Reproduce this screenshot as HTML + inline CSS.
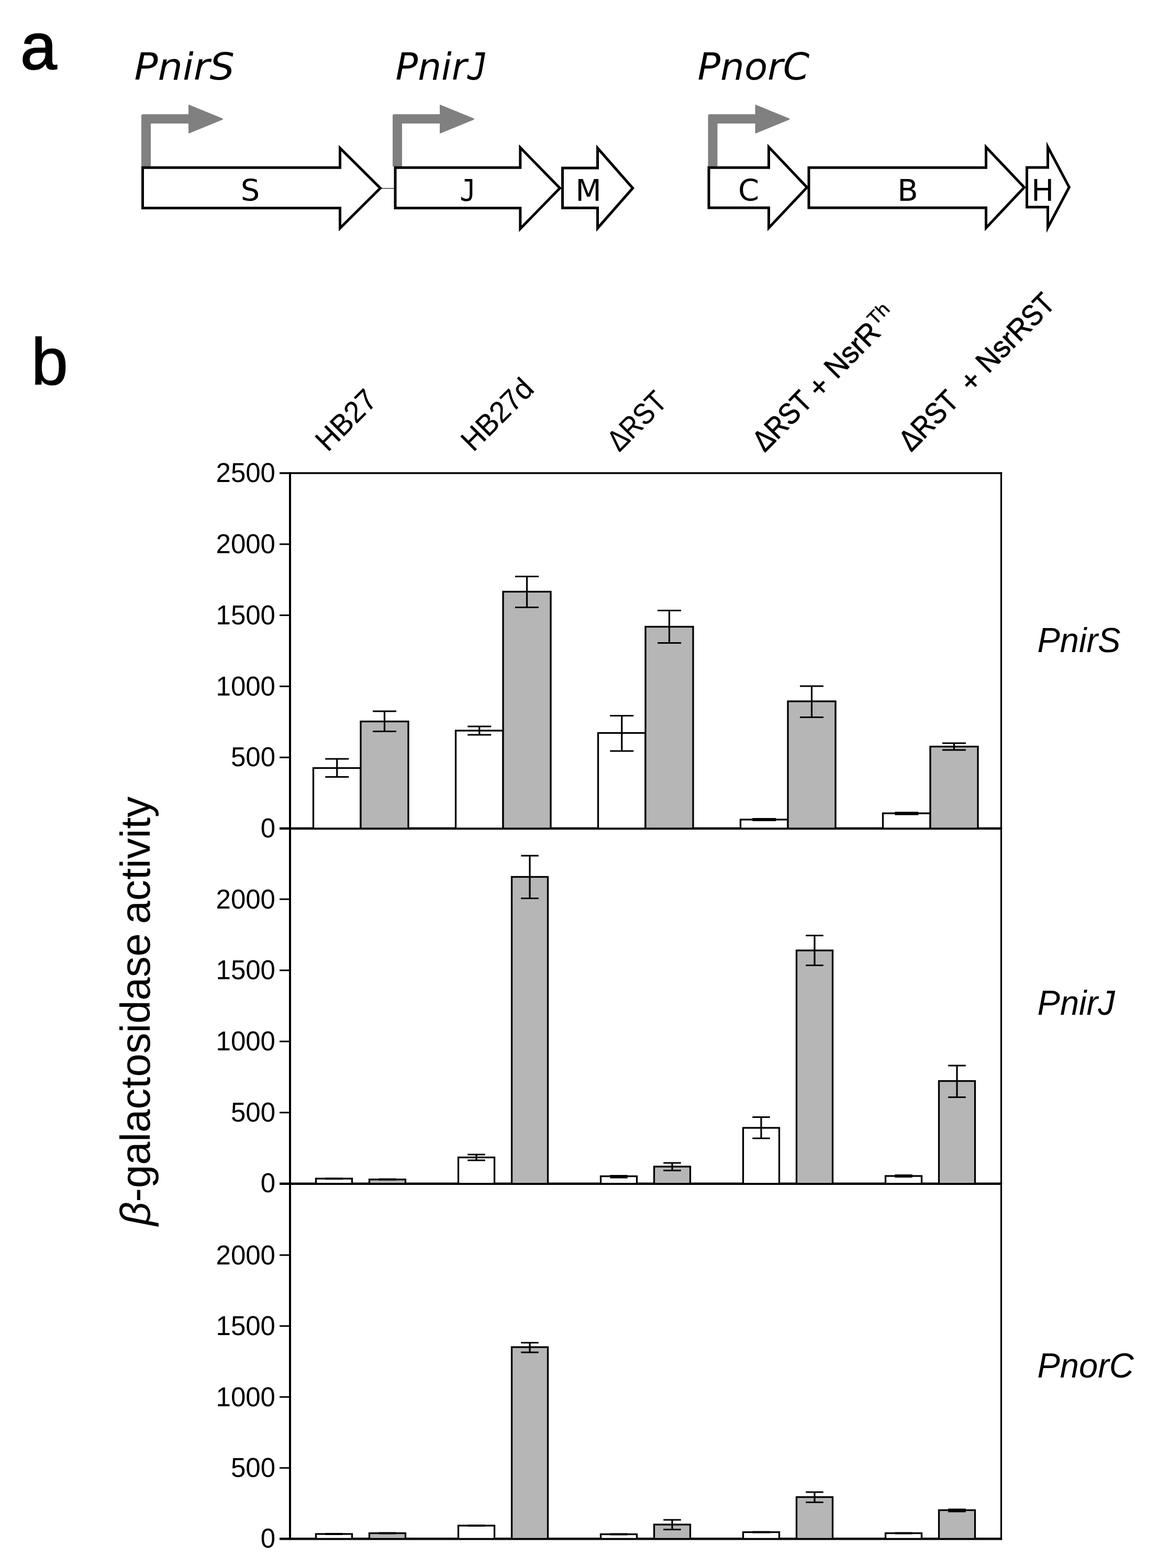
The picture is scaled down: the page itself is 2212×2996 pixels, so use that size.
<!DOCTYPE html>
<html><head><meta charset="utf-8"><title>Figure</title>
<style>
html,body{margin:0;padding:0;background:#fff}
svg{display:block}
.ar{font-family:"Liberation Sans",sans-serif}
.dv{font-family:"DejaVu Sans","Liberation Sans",sans-serif}
</style></head><body>
<svg width="2212" height="2996" viewBox="0 0 2212 2996">
<rect width="2212" height="2996" fill="#fff"/>

<text class="ar" x="39" y="132" font-size="125" stroke="#000" stroke-width="2.2">a</text>
<text class="ar" x="59.5" y="735.3" font-size="127" stroke="#000" stroke-width="1.2">b</text>
<text class="dv" x="256.5" y="152" font-size="72" font-style="italic" textLength="191.6" lengthAdjust="spacingAndGlyphs">PnirS</text>
<text class="dv" y="152" font-size="72" font-style="italic"><tspan x="755.5" textLength="136.3" lengthAdjust="spacingAndGlyphs">Pnir</tspan><tspan x="893" font-family="DejaVu Sans Mono, DejaVu Sans, sans-serif" textLength="38" lengthAdjust="spacingAndGlyphs">J</tspan></text>
<text class="dv" x="1332.5" y="152" font-size="72" font-style="italic" textLength="213.8" lengthAdjust="spacingAndGlyphs">PnorC</text>
<path d="M270,318 V221.3 Q270,218.3 273,218.3 H360 V201 Q360,199.5 361.5,200.2 L425,226.3 Q426.5,227.5 425,228.7 L361.5,254.8 Q360,255.5 360,254 V236 H288 V318 Z" fill="#808080"/>
<path d="M750,318 V221.3 Q750,218.3 753,218.3 H840 V201 Q840,199.5 841.5,200.2 L905,226.3 Q906.5,227.5 905,228.7 L841.5,254.8 Q840,255.5 840,254 V236 H768 V318 Z" fill="#808080"/>
<path d="M1352.5,318 V221.3 Q1352.5,218.3 1355.5,218.3 H1442.5 V201 Q1442.5,199.5 1444.0,200.2 L1507.5,226.3 Q1509.0,227.5 1507.5,228.7 L1444.0,254.8 Q1442.5,255.5 1442.5,254 V236 H1370.5 V318 Z" fill="#808080"/>
<line x1="728" y1="360" x2="754" y2="360" stroke="#222" stroke-width="1.3"/>
<path d="M272.5,320.3 H649.5 V283 L726.5,359.5 L649.5,436 V397.5 H272.5 Z" fill="#fff" stroke="#000" stroke-width="5" stroke-miterlimit="10"/>
<path d="M755,320.3 H993.8 V282 L1069.5,359.5 L993.8,437 V397.5 H755 Z" fill="#fff" stroke="#000" stroke-width="5" stroke-miterlimit="10"/>
<path d="M1074.5,321 H1141.5 V283 L1208.7,359.5 L1141.5,436 V397.3 H1074.5 Z" fill="#fff" stroke="#000" stroke-width="5" stroke-miterlimit="10"/>
<path d="M1354,320.3 H1468.5 V281 L1541.5,358 L1468.5,435.5 V397 H1354 Z" fill="#fff" stroke="#000" stroke-width="5" stroke-miterlimit="10"/>
<path d="M1545,320.3 H1883.5 V281 L1956.5,358 L1883.5,435.5 V397 H1545 Z" fill="#fff" stroke="#000" stroke-width="5" stroke-miterlimit="10"/>
<path d="M1961.5,320 H2001.5 V280.6 L2042.3,357.7 L2001.5,435 V395.8 H1961.5 Z" fill="#fff" stroke="#000" stroke-width="5" stroke-miterlimit="10"/>
<text class="dv" x="478" y="383.5" font-size="57.5" text-anchor="middle">S</text>
<text class="dv" x="1124" y="383.5" font-size="57.5" text-anchor="middle">M</text>
<text class="dv" x="1430" y="383.5" font-size="57.5" text-anchor="middle">C</text>
<text class="dv" x="1734" y="383.5" font-size="57.5" text-anchor="middle">B</text>
<text class="dv" x="1991.5" y="383.5" font-size="57.5" text-anchor="middle">H</text>
<text x="878.3" y="383.5" font-size="57.5" font-family="DejaVu Sans Mono, DejaVu Sans, sans-serif" textLength="31" lengthAdjust="spacingAndGlyphs">J</text>
<line x1="554" y1="902.25" x2="554" y2="2942.3" stroke="#000" stroke-width="4"/>
<line x1="1912.5" y1="902.25" x2="1912.5" y2="2942.3" stroke="#000" stroke-width="3.2"/>
<line x1="534" y1="904" x2="1914.1" y2="904" stroke="#000" stroke-width="3.4"/>
<line x1="534" y1="1583" x2="1914.1" y2="1583" stroke="#000" stroke-width="4.6"/>
<line x1="534" y1="2261.7" x2="1914.1" y2="2261.7" stroke="#000" stroke-width="4.6"/>
<line x1="534" y1="2940.3" x2="1914.1" y2="2940.3" stroke="#000" stroke-width="4.6"/>
<text class="ar" x="526" y="920.6" font-size="51" text-anchor="end">2500</text>
<line x1="534" y1="1039.8" x2="554" y2="1039.8" stroke="#000" stroke-width="3"/>
<text class="ar" x="526" y="1057.2" font-size="51" text-anchor="end">2000</text>
<line x1="534" y1="1175.6" x2="554" y2="1175.6" stroke="#000" stroke-width="3"/>
<text class="ar" x="526" y="1193.0" font-size="51" text-anchor="end">1500</text>
<line x1="534" y1="1311.4" x2="554" y2="1311.4" stroke="#000" stroke-width="3"/>
<text class="ar" x="526" y="1328.8" font-size="51" text-anchor="end">1000</text>
<line x1="534" y1="1447.2" x2="554" y2="1447.2" stroke="#000" stroke-width="3"/>
<text class="ar" x="526" y="1464.0" font-size="51" text-anchor="end">500</text>
<text class="ar" x="526" y="1599.5" font-size="51" text-anchor="end">0</text>
<line x1="534" y1="1718.1" x2="554" y2="1718.1" stroke="#000" stroke-width="3"/>
<text class="ar" x="526" y="1735.5" font-size="51" text-anchor="end">2000</text>
<line x1="534" y1="1854.0" x2="554" y2="1854.0" stroke="#000" stroke-width="3"/>
<text class="ar" x="526" y="1871.4" font-size="51" text-anchor="end">1500</text>
<line x1="534" y1="1989.9" x2="554" y2="1989.9" stroke="#000" stroke-width="3"/>
<text class="ar" x="526" y="2007.3" font-size="51" text-anchor="end">1000</text>
<line x1="534" y1="2125.8" x2="554" y2="2125.8" stroke="#000" stroke-width="3"/>
<text class="ar" x="526" y="2142.6" font-size="51" text-anchor="end">500</text>
<text class="ar" x="526" y="2278.2" font-size="51" text-anchor="end">0</text>
<line x1="534" y1="2398.1" x2="554" y2="2398.1" stroke="#000" stroke-width="3"/>
<text class="ar" x="526" y="2415.5" font-size="51" text-anchor="end">2000</text>
<line x1="534" y1="2533.7" x2="554" y2="2533.7" stroke="#000" stroke-width="3"/>
<text class="ar" x="526" y="2551.1" font-size="51" text-anchor="end">1500</text>
<line x1="534" y1="2669.2" x2="554" y2="2669.2" stroke="#000" stroke-width="3"/>
<text class="ar" x="526" y="2686.6" font-size="51" text-anchor="end">1000</text>
<line x1="534" y1="2804.8" x2="554" y2="2804.8" stroke="#000" stroke-width="3"/>
<text class="ar" x="526" y="2821.6" font-size="51" text-anchor="end">500</text>
<text class="ar" x="526" y="2956.8" font-size="51" text-anchor="end">0</text>
<rect x="598.5" y="1467.5" width="90.5" height="115.5" fill="#fff" stroke="#000" stroke-width="3.3"/>
<rect x="689.0" y="1378.5" width="91.0" height="204.5" fill="#b6b6b6" stroke="#000" stroke-width="3.3"/>
<path d="M621.25,1450 H666.25 M621.25,1484.5 H666.25 M643.75,1450 V1484.5" fill="none" stroke="#000" stroke-width="3.2"/>
<path d="M712.0,1359 H757.0 M712.0,1397.5 H757.0 M734.5,1359 V1397.5" fill="none" stroke="#000" stroke-width="3.2"/>
<rect x="870.5" y="1396" width="90.5" height="187" fill="#fff" stroke="#000" stroke-width="3.3"/>
<rect x="961.0" y="1130.5" width="91.0" height="452.5" fill="#b6b6b6" stroke="#000" stroke-width="3.3"/>
<path d="M893.25,1388 H938.25 M893.25,1404 H938.25 M915.75,1388 V1404" fill="none" stroke="#000" stroke-width="3.2"/>
<path d="M984.0,1101.5 H1029.0 M984.0,1160.5 H1029.0 M1006.5,1101.5 V1160.5" fill="none" stroke="#000" stroke-width="3.2"/>
<rect x="1142.5" y="1400.5" width="90.5" height="182.5" fill="#fff" stroke="#000" stroke-width="3.3"/>
<rect x="1233.0" y="1197.5" width="91.0" height="385.5" fill="#b6b6b6" stroke="#000" stroke-width="3.3"/>
<path d="M1165.25,1367.5 H1210.25 M1165.25,1435 H1210.25 M1187.75,1367.5 V1435" fill="none" stroke="#000" stroke-width="3.2"/>
<path d="M1256.0,1166.5 H1301.0 M1256.0,1228.5 H1301.0 M1278.5,1166.5 V1228.5" fill="none" stroke="#000" stroke-width="3.2"/>
<rect x="1414.5" y="1566" width="90.5" height="17" fill="#fff" stroke="#000" stroke-width="3.3"/>
<rect x="1505.0" y="1340" width="91.0" height="243" fill="#b6b6b6" stroke="#000" stroke-width="3.3"/>
<path d="M1437.25,1564.5 H1482.25 M1437.25,1567.5 H1482.25 M1459.75,1564.5 V1567.5" fill="none" stroke="#000" stroke-width="3.2"/>
<path d="M1528.0,1311 H1573.0 M1528.0,1370.5 H1573.0 M1550.5,1311 V1370.5" fill="none" stroke="#000" stroke-width="3.2"/>
<rect x="1686.5" y="1554" width="90.5" height="29" fill="#fff" stroke="#000" stroke-width="3.3"/>
<rect x="1777.0" y="1426.5" width="91.0" height="156.5" fill="#b6b6b6" stroke="#000" stroke-width="3.3"/>
<path d="M1709.25,1552.5 H1754.25 M1709.25,1556 H1754.25 M1731.75,1552.5 V1556" fill="none" stroke="#000" stroke-width="3.2"/>
<path d="M1800.0,1420 H1845.0 M1800.0,1433 H1845.0 M1822.5,1420 V1433" fill="none" stroke="#000" stroke-width="3.2"/>
<rect x="603.5" y="2252" width="69.0" height="9.699999999999818" fill="#fff" stroke="#000" stroke-width="3.3"/>
<rect x="705.5" y="2253.6" width="69.0" height="8.099999999999909" fill="#b6b6b6" stroke="#000" stroke-width="3.3"/>
<path d="M621.25,2251.6 H654.75 M621.25,2252.4 H654.75 M638.0,2251.6 V2252.4" fill="none" stroke="#000" stroke-width="3.2"/>
<path d="M723.25,2253.2 H756.75 M723.25,2254 H756.75 M740.0,2253.2 V2254" fill="none" stroke="#000" stroke-width="3.2"/>
<rect x="875.5" y="2211.5" width="69.0" height="50.19999999999982" fill="#fff" stroke="#000" stroke-width="3.3"/>
<rect x="977.5" y="1675.5" width="69.0" height="586.1999999999998" fill="#b6b6b6" stroke="#000" stroke-width="3.3"/>
<path d="M893.25,2206 H926.75 M893.25,2217 H926.75 M910.0,2206 V2217" fill="none" stroke="#000" stroke-width="3.2"/>
<path d="M995.25,1635 H1028.75 M995.25,1716.5 H1028.75 M1012.0,1635 V1716.5" fill="none" stroke="#000" stroke-width="3.2"/>
<rect x="1147.5" y="2247.5" width="69.0" height="14.199999999999818" fill="#fff" stroke="#000" stroke-width="3.3"/>
<rect x="1249.5" y="2229" width="69.0" height="32.69999999999982" fill="#b6b6b6" stroke="#000" stroke-width="3.3"/>
<path d="M1165.25,2246.5 H1198.75 M1165.25,2250 H1198.75 M1182.0,2246.5 V2250" fill="none" stroke="#000" stroke-width="3.2"/>
<path d="M1267.25,2222 H1300.75 M1267.25,2236.5 H1300.75 M1284.0,2222 V2236.5" fill="none" stroke="#000" stroke-width="3.2"/>
<rect x="1419.5" y="2155" width="69.0" height="106.69999999999982" fill="#fff" stroke="#000" stroke-width="3.3"/>
<rect x="1521.5" y="1816" width="69.0" height="445.6999999999998" fill="#b6b6b6" stroke="#000" stroke-width="3.3"/>
<path d="M1437.25,2134.5 H1470.75 M1437.25,2175 H1470.75 M1454.0,2134.5 V2175" fill="none" stroke="#000" stroke-width="3.2"/>
<path d="M1539.25,1787.5 H1572.75 M1539.25,1844.5 H1572.75 M1556.0,1787.5 V1844.5" fill="none" stroke="#000" stroke-width="3.2"/>
<rect x="1691.5" y="2247" width="69.0" height="14.699999999999818" fill="#fff" stroke="#000" stroke-width="3.3"/>
<rect x="1793.5" y="2065.5" width="69.0" height="196.19999999999982" fill="#b6b6b6" stroke="#000" stroke-width="3.3"/>
<path d="M1709.25,2245.5 H1742.75 M1709.25,2248.5 H1742.75 M1726.0,2245.5 V2248.5" fill="none" stroke="#000" stroke-width="3.2"/>
<path d="M1811.25,2036 H1844.75 M1811.25,2096.5 H1844.75 M1828.0,2036 V2096.5" fill="none" stroke="#000" stroke-width="3.2"/>
<rect x="603.5" y="2931" width="69.0" height="9.300000000000182" fill="#fff" stroke="#000" stroke-width="3.3"/>
<rect x="705.5" y="2929.5" width="69.0" height="10.800000000000182" fill="#b6b6b6" stroke="#000" stroke-width="3.3"/>
<path d="M621.25,2930.6 H654.75 M621.25,2931.4 H654.75 M638.0,2930.6 V2931.4" fill="none" stroke="#000" stroke-width="3.2"/>
<path d="M723.25,2929.1 H756.75 M723.25,2929.9 H756.75 M740.0,2929.1 V2929.9" fill="none" stroke="#000" stroke-width="3.2"/>
<rect x="875.5" y="2915" width="69.0" height="25.300000000000182" fill="#fff" stroke="#000" stroke-width="3.3"/>
<rect x="977.5" y="2574" width="69.0" height="366.3000000000002" fill="#b6b6b6" stroke="#000" stroke-width="3.3"/>
<path d="M893.25,2914.6 H926.75 M893.25,2915.4 H926.75 M910.0,2914.6 V2915.4" fill="none" stroke="#000" stroke-width="3.2"/>
<path d="M995.25,2565.5 H1028.75 M995.25,2584 H1028.75 M1012.0,2565.5 V2584" fill="none" stroke="#000" stroke-width="3.2"/>
<rect x="1147.5" y="2931.5" width="69.0" height="8.800000000000182" fill="#fff" stroke="#000" stroke-width="3.3"/>
<rect x="1249.5" y="2913" width="69.0" height="27.300000000000182" fill="#b6b6b6" stroke="#000" stroke-width="3.3"/>
<path d="M1165.25,2931.1 H1198.75 M1165.25,2931.9 H1198.75 M1182.0,2931.1 V2931.9" fill="none" stroke="#000" stroke-width="3.2"/>
<path d="M1267.25,2904 H1300.75 M1267.25,2922.5 H1300.75 M1284.0,2904 V2922.5" fill="none" stroke="#000" stroke-width="3.2"/>
<rect x="1419.5" y="2927.5" width="69.0" height="12.800000000000182" fill="#fff" stroke="#000" stroke-width="3.3"/>
<rect x="1521.5" y="2860.5" width="69.0" height="79.80000000000018" fill="#b6b6b6" stroke="#000" stroke-width="3.3"/>
<path d="M1437.25,2927.1 H1470.75 M1437.25,2927.9 H1470.75 M1454.0,2927.1 V2927.9" fill="none" stroke="#000" stroke-width="3.2"/>
<path d="M1539.25,2851 H1572.75 M1539.25,2870.5 H1572.75 M1556.0,2851 V2870.5" fill="none" stroke="#000" stroke-width="3.2"/>
<rect x="1691.5" y="2929.5" width="69.0" height="10.800000000000182" fill="#fff" stroke="#000" stroke-width="3.3"/>
<rect x="1793.5" y="2885.5" width="69.0" height="54.80000000000018" fill="#b6b6b6" stroke="#000" stroke-width="3.3"/>
<path d="M1709.25,2929.1 H1742.75 M1709.25,2929.9 H1742.75 M1726.0,2929.1 V2929.9" fill="none" stroke="#000" stroke-width="3.2"/>
<path d="M1811.25,2884 H1844.75 M1811.25,2888 H1844.75 M1828.0,2884 V2888" fill="none" stroke="#000" stroke-width="3.2"/>
<text class="ar" x="1981.5" y="1246" font-size="66.5" font-style="italic" textLength="159" lengthAdjust="spacingAndGlyphs">PnirS</text>
<text class="ar" x="1981.5" y="1939" font-size="66.5" font-style="italic" textLength="148.2" lengthAdjust="spacingAndGlyphs">PnirJ</text>
<text class="ar" x="1981.5" y="2631.5" font-size="66.5" font-style="italic" textLength="184.3" lengthAdjust="spacingAndGlyphs">PnorC</text>
<text class="ar" transform="translate(285.5,2342) rotate(-90)" font-size="79.6" word-spacing="-4"><tspan font-style="italic">β</tspan>-galactosidase activity</text>
<text class="ar" transform="translate(626,865) rotate(-45)" font-size="57" stroke="#000" stroke-width="0.3" textLength="137.6" lengthAdjust="spacingAndGlyphs">HB27</text>
<text class="ar" transform="translate(904,865) rotate(-45)" font-size="57" stroke="#000" stroke-width="0.3" textLength="168.1" lengthAdjust="spacingAndGlyphs">HB27d</text>
<text class="ar" transform="translate(1183,865) rotate(-45)" font-size="57" stroke="#000" stroke-width="0.3" textLength="133" lengthAdjust="spacingAndGlyphs">ΔRST</text>
<text transform="translate(1460.7,865.5) rotate(-45.4)" class="ar" font-size="57" stroke="#000" stroke-width="0.9"><tspan x="0" y="0" textLength="133" lengthAdjust="spacingAndGlyphs">ΔRST</tspan> <tspan x="147" y="4" textLength="32.1" lengthAdjust="spacingAndGlyphs">+</tspan> <tspan x="196" y="0" textLength="123.5" lengthAdjust="spacingAndGlyphs">NsrR</tspan><tspan x="320.5" y="-20" font-size="36" stroke-width="0.5" textLength="43" lengthAdjust="spacingAndGlyphs">Th</tspan></text>
<text transform="translate(1740.4,864.7) rotate(-45.4)" class="ar" font-size="57" stroke="#000" stroke-width="0.9"><tspan x="0" y="0" textLength="133" lengthAdjust="spacingAndGlyphs">ΔRST</tspan> <tspan x="161.5" y="4" textLength="32.1" lengthAdjust="spacingAndGlyphs">+</tspan> <tspan x="210" y="0" textLength="123.2" lengthAdjust="spacingAndGlyphs">NsrR</tspan><tspan x="333.2" y="0" textLength="62" lengthAdjust="spacingAndGlyphs">ST</tspan></text>
</svg></body></html>
